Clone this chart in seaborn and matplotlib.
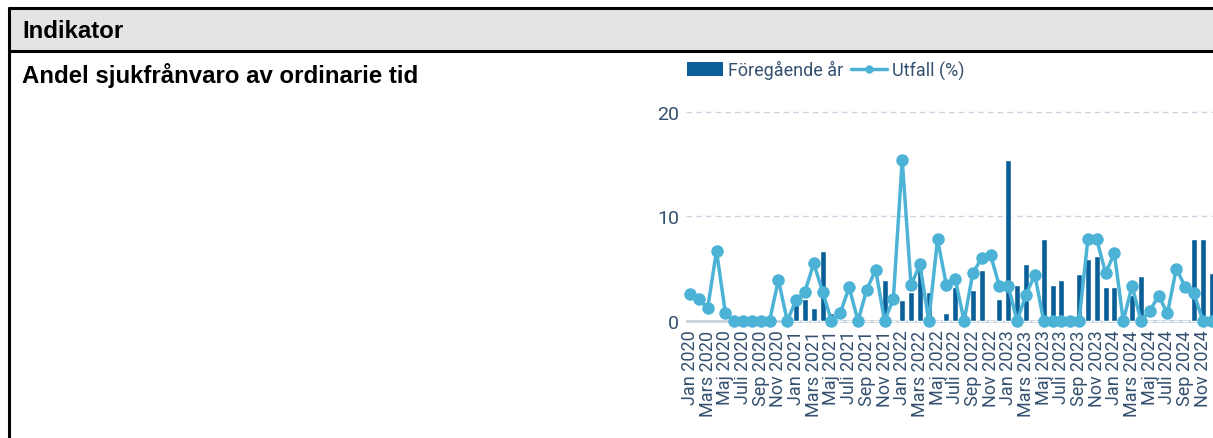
import numpy as np
import pandas as pd
import seaborn as sns
import matplotlib.pyplot as plt
from matplotlib.patches import Patch, Rectangle
from matplotlib.lines import Line2D

# Månader jan 2020 - dec 2024
manader = ['Jan', 'Feb', 'Mars', 'April', 'Maj', 'Juni',
           'Juli', 'Aug', 'Sep', 'Okt', 'Nov', 'Dec']
ar = [2020, 2021, 2022, 2023, 2024]

# Utfall (%) per månad
utfall = [2.55, 2.1, 1.2, 6.7, 0.77, 0, 0, 0, 0, 0, 3.93, 0,
          2.0, 2.8, 5.5, 2.8, 0, 0.77, 3.2, 0, 3.0, 4.9, 0, 2.1,
          15.4, 3.4, 5.4, 0, 7.8, 3.4, 4.0, 0, 4.6, 6.0, 6.3, 3.3,
          3.3, 0, 2.5, 4.4, 0, 0, 0, 0, 0, 7.8, 7.8, 4.6,
          6.45, 0, 3.35, 0, 0.96, 2.4, 0.73, 5.0, 3.26, 2.65, 0, 0]

# Föregående år (staplar), saknas för 2020
foregaende = [np.nan] * 12 + [
    2.55, 2.1, 1.2, 6.7, 0.77, 0, 0, 0, 0, 0, 3.93, 0,
    2.0, 2.8, 5.0, 2.8, 0, 0.77, 3.2, 0, 3.0, 4.9, 0, 2.1,
    15.4, 3.4, 5.4, 0, 7.8, 3.4, 3.9, 0, 4.5, 5.9, 6.2, 3.2,
    3.2, 0, 2.5, 4.3, 0, 0, 0, 0, 0, 7.8, 7.8, 4.6]

etiketter = [f'{m} {a}' for a in ar for m in manader]

df = pd.DataFrame({'pos': np.arange(len(etiketter)), 'manad': etiketter,
                   'utfall': utfall, 'foregaende': foregaende})

sns.set_theme(style='white')
plt.rcParams['font.family'] = ['Roboto', 'DejaVu Sans']

W, H = 1213, 439
fig = plt.figure(figsize=(W / 100, H / 100), dpi=100)

# tabellram och rubrikrad
bg = fig.add_axes([0, 0, 1, 1])
bg.set_xlim(0, W)
bg.set_ylim(H, 0)
bg.axis('off')
bg.add_patch(Rectangle((9, 9), W, 43, facecolor='#e4e4e4', edgecolor='none'))
bg.plot([8, W], [8.5, 8.5], color='black', lw=2.2, solid_capstyle='butt')
bg.plot([8, W], [52, 52], color='black', lw=2.2, solid_capstyle='butt')
bg.plot([8.5, 8.5], [7.5, H], color='black', lw=2.2, solid_capstyle='butt')
bg.text(22, 31, 'Indikator', fontsize=17.3, fontweight='bold',
        family='Liberation Sans', va='center', ha='left', color='black')
bg.text(22, 76, 'Andel sjukfrånvaro av ordinarie tid', fontsize=17.3,
        fontweight='bold', family='Liberation Sans', va='center', ha='left',
        color='black')

textfarg = '#34506f'
stapelfarg = '#0a5f98'
linjefarg = '#4cb3d6'

ax = fig.add_axes([686 / W, 1 - 325 / H, (W - 686) / W, (325 - 92) / H])
sns.barplot(data=df, x='pos', y='foregaende', native_scale=True, width=0.68,
            color=stapelfarg, saturation=1, errorbar=None, ax=ax, zorder=2)
sns.lineplot(data=df, x='pos', y='utfall', color=linjefarg, lw=2.5,
             marker='o', markersize=9, markeredgewidth=0, ax=ax,
             zorder=4, clip_on=False)

ax.set_xlim(-0.45, 59.15)
ax.set_ylim(-0.3, 22)
for s in ax.spines.values():
    s.set_visible(False)
ax.axhline(0, color='#c9d2dc', lw=2, zorder=1)
for v in [10, 20]:
    ax.axhline(v, color='#c7d3e0', lw=1, ls=(0, (4, 3)), zorder=1)

ax.set_yticks([0, 10, 20])
ax.set_yticklabels(['0', '10', '20'], fontsize=14, color=textfarg)
ax.set_xticks(df['pos'][::2])
ax.set_xticklabels(df['manad'][::2], rotation=90, fontsize=13, color=textfarg)
ax.tick_params(axis='both', length=0)
ax.tick_params(axis='x', pad=4)
ax.tick_params(axis='y', pad=5)
ax.set_xlabel('')
ax.set_ylabel('')

handtag = [Patch(facecolor=stapelfarg, edgecolor='none'),
           Line2D([], [], color=linjefarg, lw=2.5, marker='o', markersize=5)]
fig.legend(handtag, ['Föregående år', 'Utfall (%)'], loc='center left',
           bbox_to_anchor=(687 / W, 1 - 71 / H), ncol=2, frameon=False,
           fontsize=13, handlelength=2.0, handleheight=0.8,
           handletextpad=0.25, columnspacing=0.45, borderpad=0,
           borderaxespad=0, labelcolor=textfarg)

fig.savefig('out.png', dpi=100)
